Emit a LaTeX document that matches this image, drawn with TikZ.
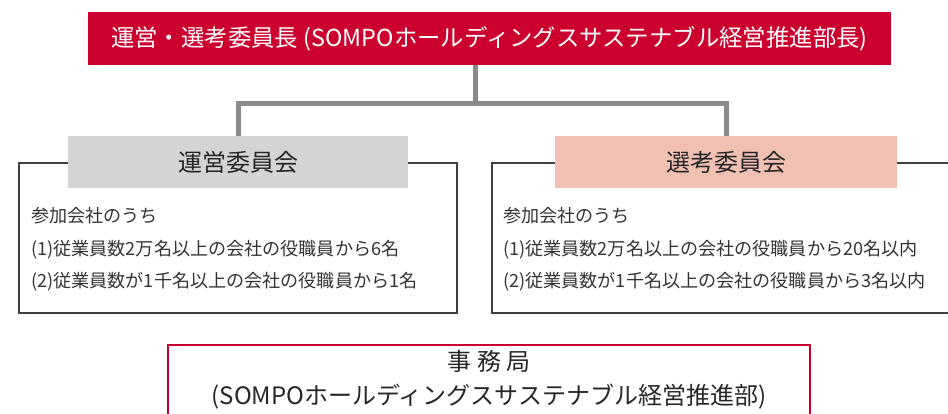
\documentclass[tikz,border=0pt]{standalone}
\usepackage{fontspec}
\setmainfont{Noto Sans CJK JP}
\usetikzlibrary{positioning}
\definecolor{sompored}{RGB}{204,0,46}
\definecolor{headgray}{RGB}{212,212,212}
\definecolor{headpink}{RGB}{240,192,178}
\definecolor{linegray}{RGB}{138,138,138}
\definecolor{textgray}{RGB}{51,51,51}

\begin{document}
\begin{tikzpicture}[x=1pt, y=-1pt,
  chairbox/.style={fill=sompored, text=white, minimum width=803pt, minimum height=53pt, inner sep=0pt, font=\fontsize{23.4}{28}\selectfont},
  headbox/.style={minimum height=52pt, inner sep=0pt, text=black!85, font=\fontsize{24}{28}\selectfont},
  framebox/.style={draw=black!75, line width=1.2pt, minimum height=150pt, inner sep=0pt},
  body/.style={anchor=base west, inner sep=0pt, text=textgray, font=\fontsize{18.1}{22}\selectfont},
  conn/.style={draw=linegray, line width=5pt}
]
\useasboundingbox (0,0) rectangle (948,414);
\clip (0,0) rectangle (948,414);

% top
\node[chairbox] (chair) at (489.5,38.5) {運営・選考委員長 (SOMPOホールディングスサステナブル経営推進部長)};

% committees
\node[framebox, minimum width=438pt] (uneiframe) at (238,238) {};
\node[framebox, minimum width=468pt] (senkoframe) at (726,238) {};
\node[headbox, fill=headgray, minimum width=340pt] (unei) at (238,162) {運営委員会};
\node[headbox, fill=headpink, minimum width=342pt] (senko) at (726,162) {選考委員会};

\node[body] (unei1) at (31,222.5) {参加会社のうち};
\node[body] (unei2) at (31,255) {(1)従業員数2万名以上の会社の役職員から6名};
\node[body] (unei3) at (31,287.5) {(2)従業員数が1千名以上の会社の役職員から1名};

\node[body] (senko1) at (503,222.5) {参加会社のうち};
\node[body] (senko2) at (503,255) {(1)従業員数2万名以上の会社の役職員から20名以内};
\node[body] (senko3) at (503,287.5) {(2)従業員数が1千名以上の会社の役職員から3名以内};

% tree
\coordinate (fork) at (475,104);
\draw[conn] (chair.south -| fork) -- (fork);
\draw[conn] (unei.north) |- (fork) -| (senko.north);

% office
\node[draw=sompored, line width=2pt, minimum width=642pt, minimum height=110pt] (office) at (489,400) {};
\node[align=center, inner sep=0pt, text=black!85, font=\fontsize{24}{34}\selectfont, below=6pt of office.north] (officename)
  {事 務 局\\(SOMPOホールディングスサステナブル経営推進部)};
\end{tikzpicture}
\end{document}
